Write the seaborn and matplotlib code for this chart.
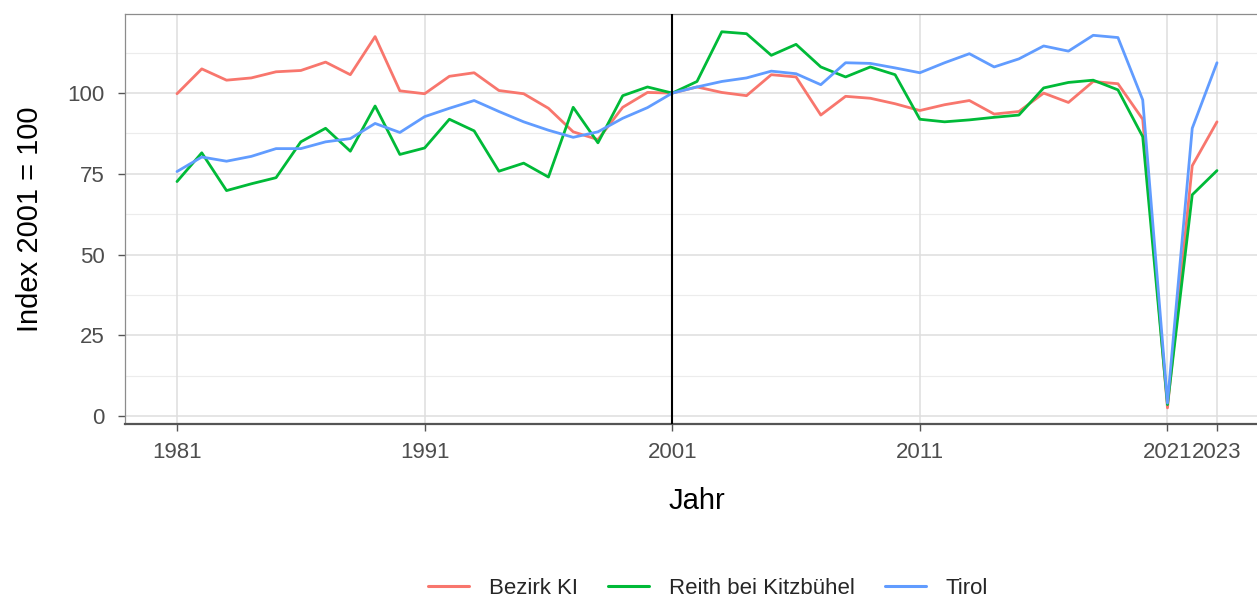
import numpy as np
import pandas as pd
import seaborn as sns
import matplotlib.pyplot as plt
from matplotlib.ticker import FixedLocator
from matplotlib.lines import Line2D

years = list(range(1981, 2024))

bezirk_ki = [99.8, 107.5, 104.0, 104.7, 106.6, 107.0, 109.6, 105.7, 117.5, 100.7,
             99.8, 105.2, 106.3, 100.8, 99.8, 95.3, 88.0, 85.6, 95.6, 100.2,
             100.0, 101.9, 100.2, 99.2, 105.7, 105.0, 93.2, 99.0, 98.4, 96.7,
             94.6, 96.4, 97.7, 93.5, 94.3, 100.0, 97.1, 103.6, 102.9, 91.9,
             2.5, 77.5, 91.1]
reith = [72.6, 81.5, 69.8, 71.9, 73.8, 84.9, 89.1, 82.0, 96.0, 81.0,
         83.0, 91.9, 88.3, 75.8, 78.3, 74.0, 95.6, 84.6, 99.2, 101.9,
         100.0, 103.6, 119.0, 118.4, 111.7, 115.1, 108.1, 105.0, 108.1, 105.7,
         91.9, 91.1, 91.7, 92.5, 93.2, 101.6, 103.3, 104.0, 101.0, 86.5,
         3.5, 68.5, 76.0]
tirol = [75.7, 80.2, 78.9, 80.4, 82.8, 82.8, 84.9, 85.9, 90.6, 87.8,
         92.7, 95.3, 97.7, 94.3, 91.1, 88.5, 86.3, 88.0, 92.2, 95.5,
         100.0, 101.9, 103.6, 104.7, 106.8, 106.0, 102.6, 109.4, 109.2, 107.8,
         106.3, 109.4, 112.2, 108.1, 110.6, 114.6, 113.0, 117.9, 117.2, 97.9,
         4.0, 89.1, 109.4]

series_names = ["Bezirk KI", "Reith bei Kitzbühel", "Tirol"]
colors = ["#F8766D", "#00BA38", "#619CFF"]
x_breaks = [1981, 1991, 2001, 2011, 2021, 2023]
y_breaks = [0, 25, 50, 75, 100]
y_minor = [12.5, 37.5, 62.5, 87.5, 112.5]

df = pd.DataFrame({
    "Jahr": years * 3,
    "Index": bezirk_ki + reith + tirol,
    "Gebiet": np.repeat(series_names, len(years)),
})

sns.set_theme(style="white")
plt.rcParams['font.family'] = ['Liberation Sans', 'DejaVu Sans']

fig = plt.figure(figsize=(12.57, 5.97), dpi=100)
# panel runs past the right edge of the image, as in the reference
ax = fig.add_axes([125 / 1257, 1 - 424 / 597, (1269 - 125) / 1257, (424 - 14) / 597])

# grid: major + minor horizontal, vertical only at the breaks
for yb in y_breaks:
    ax.axhline(yb, color="#dedede", linewidth=1.1, zorder=0)
for yb in y_minor:
    ax.axhline(yb, color="#ececec", linewidth=0.8, zorder=0)
for xb in x_breaks:
    ax.axvline(xb, color="#dedede", linewidth=1.1, zorder=0)

sns.lineplot(data=df, x="Jahr", y="Index", hue="Gebiet", hue_order=series_names,
             palette=colors, linewidth=2.0, ax=ax, legend=False, zorder=3)

ax.axvline(2001, color="black", linewidth=1.5, zorder=4)

ax.set_xlim(1978.9, 2025.1)
ax.set_ylim(-2.5, 124.5)
ax.xaxis.set_major_locator(FixedLocator(x_breaks))
ax.yaxis.set_major_locator(FixedLocator(y_breaks))
ax.tick_params(axis="both", which="major", length=5, width=1, color="#555555",
               labelsize=16, labelcolor="#4d4d4d")
ax.tick_params(axis="x", pad=8)
ax.tick_params(axis="y", pad=9.5)
ax.tick_params(bottom=True, left=True)

ax.set_xlabel("Jahr", fontsize=21, color="black")
ax.set_ylabel("Index 2001 = 100", fontsize=21, color="black")
ax.xaxis.label.set_va("center")
ax.yaxis.label.set_va("center")
ax.xaxis.set_label_coords(0.5, (424 - 501) / 410)
ax.yaxis.set_label_coords((30 - 125) / 1144, 0.5)

for side in ["top", "left", "right"]:
    ax.spines[side].set_color("#8c8c8c")
    ax.spines[side].set_linewidth(0.9)
ax.spines["bottom"].set_color("#555555")
ax.spines["bottom"].set_linewidth(1.6)

handles = [Line2D([0], [0], color=c, linewidth=2.2) for c in colors]
fig.legend(handles, series_names, loc="center", bbox_to_anchor=(708 / 1257, 1 - 588 / 597),
           ncol=3, frameon=False, fontsize=16, handlelength=1.85, columnspacing=1.35,
           handletextpad=0.9)

fig.savefig("out.png", dpi=100)
